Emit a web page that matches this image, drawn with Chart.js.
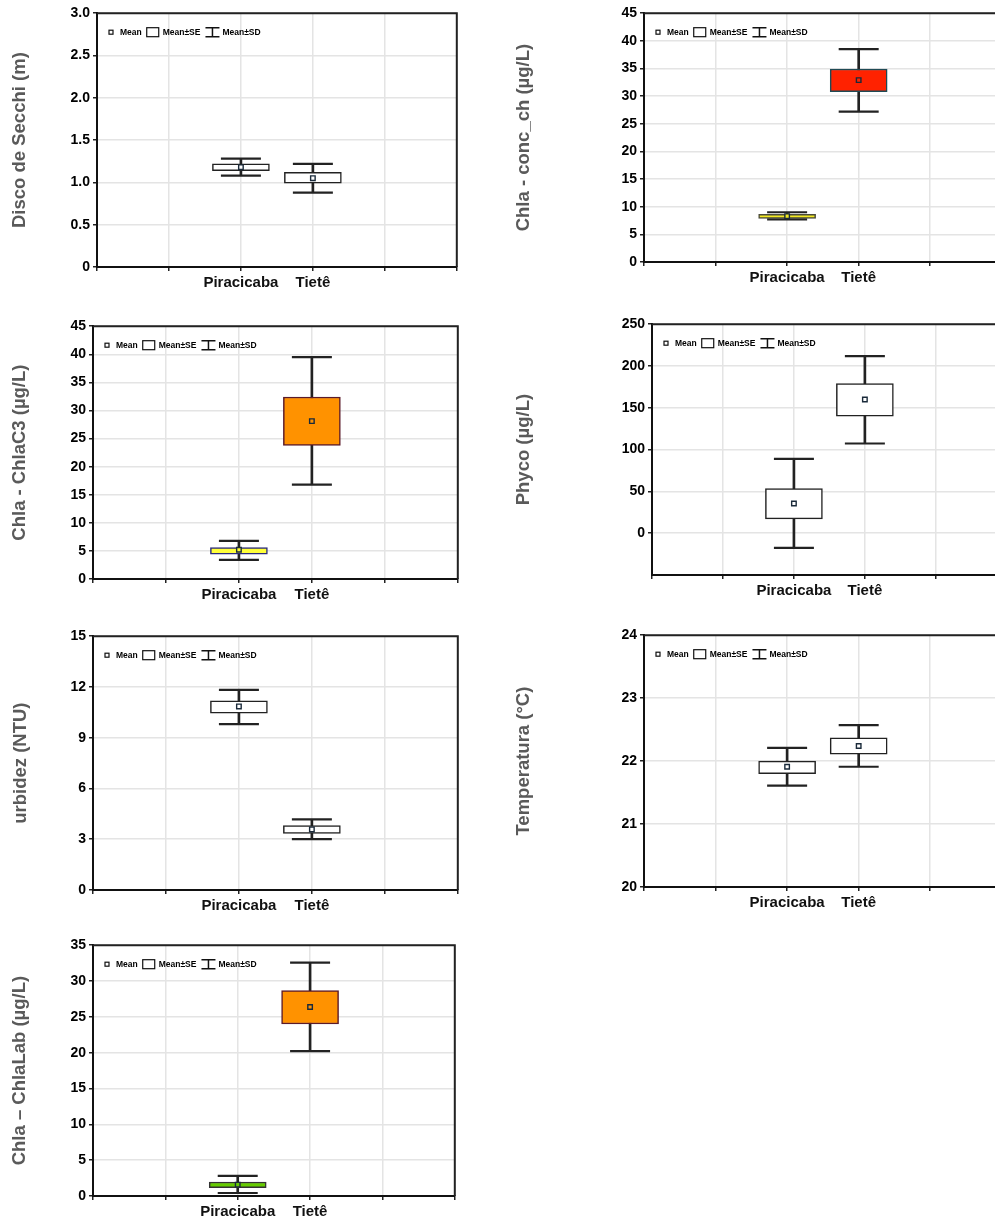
<!DOCTYPE html>
<html>
<head>
<meta charset="utf-8">
<script src="https://cdn.jsdelivr.net/npm/chart.js@4.4.1/dist/chart.umd.min.js"></script>
<style>
    html, body { margin: 0; padding: 0; background: #fff; }
    body { position: relative; width: 995px; height: 1219px; overflow: hidden; }
    canvas { position: absolute; }
</style>
</head>
<body>
<canvas id="secchiChart"></canvas>
<canvas id="concChart"></canvas>
<canvas id="c3Chart"></canvas>
<canvas id="phycoChart"></canvas>
<canvas id="turbChart"></canvas>
<canvas id="tempChart"></canvas>
<canvas id="labChart"></canvas>
<script>
// Categories (x axis)
const categories = ['Piracicaba', 'Tietê'];

// Disco de Secchi (m)
const secchiMean = [1.18, 1.05];
const secchiSE = [[1.14, 1.22], [0.99, 1.12]];
const secchiSD = [[1.08, 1.28], [0.88, 1.22]];
const secchiTicks = ['0', '0.5', '1.0', '1.5', '2.0', '2.5', '3.0'];

// Chla - conc_ch (µg/L)
const concMean = [8.3, 32.9];
const concSE = [[7.9, 8.6], [30.8, 34.9]];
const concSD = [[7.7, 9.0], [27.2, 38.5]];
const concTicks = ['0', '5', '10', '15', '20', '25', '30', '35', '40', '45'];

// Chla - ChlaC3 (µg/L)
const c3Mean = [5.2, 28.1];
const c3SE = [[4.4, 5.6], [23.8, 32.4]];
const c3SD = [[3.4, 6.8], [16.8, 39.5]];
const c3Ticks = ['0', '5', '10', '15', '20', '25', '30', '35', '40', '45'];

// Phyco (µg/L)
const phycoMean = [35.5, 160];
const phycoSE = [[17.2, 53.5], [140, 179]];
const phycoSD = [[-17.5, 88.9], [107.3, 211.7]];
const phycoTicks = ['0', '50', '100', '150', '200', '250'];

// Turbidez (NTU)
const turbMean = [10.85, 3.58];
const turbSE = [[10.45, 11.18], [3.35, 3.8]];
const turbSD = [[9.8, 11.83], [3.01, 4.17]];
const turbTicks = ['0', '3', '6', '9', '12', '15'];

// Temperatura (°C)
const tempMean = [21.91, 22.24];
const tempSE = [[21.8, 22.0], [22.11, 22.37]];
const tempSD = [[21.61, 22.21], [21.91, 22.57]];
const tempTicks = ['20', '21', '22', '23', '24'];

// Chla – ChlaLab (µg/L)
const labMean = [1.59, 26.37];
const labSE = [[1.17, 1.95], [24.0, 28.65]];
const labSD = [[0.42, 2.8], [20.23, 32.56]];
const labTicks = ['0', '5', '10', '15', '20', '25', '30', '35'];

Chart.defaults.font.family = '"Liberation Sans", Arial, sans-serif';

const WHITE = '#ffffff';
const YELLOW = '#ffff3a';
const RED = '#ff2200';
const ORANGE = '#ff9200';
const GREEN = '#66cc00';

const panels = [
    { id: 'secchiChart', title: 'Disco de Secchi (m)', mean: secchiMean, se: secchiSE, sd: secchiSD, ticks: secchiTicks, min: 0, max: 3,
      fills: [WHITE, WHITE], edges: ['#222', '#222'],
      box: { x0: 0, left: 97, top: 13, right: 457, bottom: 267, titlePad: 9 } },
    { id: 'concChart', title: 'Chla - conc_ch (µg/L)', mean: concMean, se: concSE, sd: concSD, ticks: concTicks, min: 0, max: 45,
      fills: ['#f4ea22', RED], edges: ['#4a4a3a', '#1f4a55'],
      box: { x0: 500, left: 644, top: 13, right: 1002, bottom: 262, titlePad: 13 } },
    { id: 'c3Chart', title: 'Chla - ChlaC3 (µg/L)', mean: c3Mean, se: c3SE, sd: c3SD, ticks: c3Ticks, min: 0, max: 45,
      fills: [YELLOW, ORANGE], edges: ['#2a2a7a', '#5a1a2a'],
      box: { x0: 0, left: 93, top: 326, right: 458, bottom: 579, titlePad: 9 } },
    { id: 'phycoChart', title: 'Phyco (µg/L)', mean: phycoMean, se: phycoSE, sd: phycoSD, ticks: phycoTicks, min: -50, max: 250,
      fills: [WHITE, WHITE], edges: ['#222', '#222'],
      box: { x0: 500, left: 652, top: 324, right: 1007, bottom: 575, titlePad: 13 } },
    { id: 'turbChart', title: 'urbidez (NTU)', mean: turbMean, se: turbSE, sd: turbSD, ticks: turbTicks, min: 0, max: 15,
      fills: [WHITE, WHITE], edges: ['#222', '#222'],
      box: { x0: 0, left: 93, top: 636, right: 458, bottom: 890, titlePad: 10 } },
    { id: 'tempChart', title: 'Temperatura (°C)', mean: tempMean, se: tempSE, sd: tempSD, ticks: tempTicks, min: 20, max: 24,
      fills: [WHITE, WHITE], edges: ['#222', '#222'],
      box: { x0: 500, left: 644, top: 635, right: 1002, bottom: 887, titlePad: 13 } },
    { id: 'labChart', title: 'Chla – ChlaLab (µg/L)', mean: labMean, se: labSE, sd: labSD, ticks: labTicks, min: 0, max: 35,
      fills: [GREEN, ORANGE], edges: ['#333', '#5a1a2a'],
      box: { x0: 0, left: 93, top: 945, right: 455, bottom: 1196, titlePad: 9 } }
];

// two empty slots on each side of the categories, like the original plot
const xLabels = ['', ''].concat(categories, ['', '']);
function pad(arr, fill) {
    const f = fill === undefined ? null : fill;
    return [f, f].concat(arr, [f, f]);
}

// frame on top/right + the little Mean / Mean±SE / Mean±SD key
const frameAndKey = {
    id: 'frameAndKey',
    afterDraw(chart) {
        const { ctx, chartArea } = chart;
        const { left, top, right, bottom } = chartArea;
        ctx.save();
        ctx.strokeStyle = '#222';
        ctx.lineWidth = 2;
        ctx.beginPath();
        ctx.moveTo(left, top);
        ctx.lineTo(right, top);
        ctx.lineTo(right, bottom);
        ctx.stroke();

        ctx.font = 'bold 8.5px "Liberation Sans", Arial, sans-serif';
        ctx.textBaseline = 'middle';
        ctx.fillStyle = '#000';
        ctx.strokeStyle = '#111';
        ctx.lineWidth = 1.2;
        let x = left + 12;
        const y = top + 19;
        ctx.strokeRect(x, y - 2, 4, 4);
        x += 11;
        ctx.fillText('Mean', x, y);
        x += ctx.measureText('Mean').width + 5;
        ctx.strokeRect(x, y - 4.5, 12, 9);
        x += 16;
        ctx.fillText('Mean±SE', x, y);
        x += ctx.measureText('Mean±SE').width + 5;
        ctx.lineWidth = 1.5;
        ctx.beginPath();
        ctx.moveTo(x, y - 4.5); ctx.lineTo(x + 14, y - 4.5);
        ctx.moveTo(x, y + 4.5); ctx.lineTo(x + 14, y + 4.5);
        ctx.moveTo(x + 7, y - 4.5); ctx.lineTo(x + 7, y + 4.5);
        ctx.stroke();
        x += 17;
        ctx.fillText('Mean±SD', x, y);
        ctx.restore();
    }
};

function buildConfig(p) {
    const b = p.box;
    return {
        type: 'bar',
        data: {
            labels: xLabels,
            datasets: [
                {
                    // SD whisker stem
                    type: 'bar',
                    data: pad(p.sd),
                    backgroundColor: '#222',
                    borderWidth: 0,
                    barThickness: 2,
                    grouped: false,
                    order: 4
                },
                {
                    type: 'line',
                    data: pad(p.sd.map(r => r[0])),
                    showLine: false,
                    pointStyle: 'line',
                    pointRadius: 20,
                    pointBorderColor: '#222',
                    pointBorderWidth: 2.2,
                    order: 3
                },
                {
                    type: 'line',
                    data: pad(p.sd.map(r => r[1])),
                    showLine: false,
                    pointStyle: 'line',
                    pointRadius: 20,
                    pointBorderColor: '#222',
                    pointBorderWidth: 2.2,
                    order: 3
                },
                {
                    // SE box
                    type: 'bar',
                    data: pad(p.se),
                    backgroundColor: pad(p.fills, 'transparent'),
                    borderColor: pad(p.edges, 'transparent'),
                    borderWidth: 1.5,
                    borderSkipped: false,
                    barThickness: 57,
                    grouped: false,
                    order: 2
                },
                {
                    // mean marker
                    type: 'line',
                    data: pad(p.mean),
                    showLine: false,
                    pointStyle: 'rect',
                    pointRadius: 3.2,
                    pointBackgroundColor: pad(p.fills, 'transparent'),
                    pointBorderColor: '#1a2a3a',
                    pointBorderWidth: 1.4,
                    order: 1
                }
            ]
        },
        options: {
            responsive: false,
            maintainAspectRatio: false,
            animation: false,
            devicePixelRatio: 1,
            layout: { padding: 0 },
            plugins: {
                legend: { display: false },
                tooltip: { enabled: false }
            },
            scales: {
                x: {
                    type: 'category',
                    offset: false,
                    afterFit: s => { s.height = 30; },
                    ticks: {
                        color: '#111',
                        font: { size: 15, weight: 'bold' },
                        padding: 3,
                        autoSkip: false,
                        maxRotation: 0
                    },
                    grid: { color: '#e4e4e4', lineWidth: 1.5, tickColor: '#222', tickLength: 4, offset: false },
                    border: { color: '#111', width: 2 }
                },
                y: {
                    min: p.min,
                    max: p.max,
                    afterBuildTicks: s => { s.ticks = p.ticks.map(t => ({ value: parseFloat(t) })); },
                    afterFit: s => { s.width = b.left - b.x0; },
                    ticks: {
                        callback: (v, i) => p.ticks[i],
                        color: '#000',
                        font: { size: 14, weight: 'bold' },
                        padding: 3
                    },
                    grid: { color: '#e4e4e4', lineWidth: 1.5, tickColor: '#222', tickLength: 4 },
                    border: { color: '#111', width: 2 },
                    title: {
                        display: true,
                        text: p.title,
                        color: '#5a5a5a',
                        font: { size: 18.5, weight: 'bold' },
                        padding: { top: b.titlePad, bottom: 0 }
                    }
                }
            }
        },
        plugins: [frameAndKey]
    };
}

function drawPanel(p) {
    const canvas = document.getElementById(p.id);
    const b = p.box;
    // first pass: find how much room the axes take around the plot area
    canvas.width = 500;
    canvas.height = 320;
    let chart = new Chart(canvas, buildConfig(p));
    const ca = chart.chartArea;
    const offLeft = ca.left, offTop = ca.top;
    const extraRight = canvas.width - ca.right;
    const extraBottom = canvas.height - ca.bottom;
    chart.destroy();

    // second pass: size the canvas so the plot area lands where the original has it
    canvas.width = offLeft + (b.right - b.left) + extraRight;
    canvas.height = offTop + (b.bottom - b.top) + extraBottom;
    canvas.style.left = (b.left - offLeft) + 'px';
    canvas.style.top = (b.top - offTop) + 'px';
    chart = new Chart(canvas, buildConfig(p));
}

panels.forEach(drawPanel);
</script>
</body>
</html>
